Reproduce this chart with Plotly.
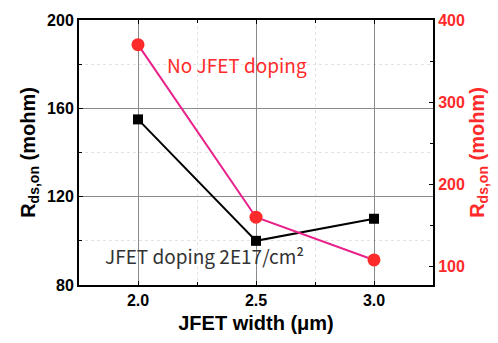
import plotly.graph_objects as go

width = [2.0, 2.5, 3.0]
rds_doped = [155, 100, 110]       # left axis (mohm)
rds_nodope = [370, 160, 108]      # right axis (mohm)

x_ticks = [2.0, 2.5, 3.0]
x_tick_text = ["2.0", "2.5", "3.0"]
left_ticks = [80, 120, 160, 200]
right_ticks = [100, 200, 300, 400]

RED = "#ff2a2a"
PINK = "#e8228a"

fig = go.Figure()
fig.add_trace(go.Scatter(
    x=width, y=rds_doped, mode="lines+markers",
    line=dict(color="black", width=2),
    marker=dict(symbol="square", size=10, color="black"),
    showlegend=False, yaxis="y"))
fig.add_trace(go.Scatter(
    x=width, y=rds_nodope, mode="lines+markers",
    line=dict(color=PINK, width=2),
    marker=dict(symbol="circle", size=13, color=RED),
    showlegend=False, yaxis="y2"))

title_font = dict(family="Liberation Sans, Arial", size=20, color="black")
tick_font_black = dict(family="Liberation Sans, Arial", size=16, color="black", weight="bold")
tick_font_red = dict(family="Liberation Sans, Arial", size=16, color=RED, weight="bold")

fig.update_layout(
    width=498, height=343,
    margin=dict(l=79, r=65, t=15, b=56),
    paper_bgcolor="white", plot_bgcolor="white",
    xaxis=dict(
        range=[1.75, 3.25], tickvals=x_ticks, ticktext=x_tick_text,
        showline=True, linecolor="black", linewidth=2, mirror="ticks",
        ticks="inside", ticklen=4, tickcolor="black",
        showgrid=True, gridcolor="#8a8a8a", gridwidth=1,
        minor=dict(dtick=0.25, tick0=1.75, ticks="inside", ticklen=3, tickcolor="black",
                   showgrid=True, gridcolor="#e2e2e2", griddash="dot"),
        tickfont=tick_font_black,
        title=dict(text="<b>JFET width (μm)</b>", font=title_font, standoff=8),
        zeroline=False,
    ),
    yaxis=dict(
        range=[80, 200], tickvals=left_ticks,
        showline=True, linecolor="black", linewidth=2, mirror=True,
        ticks="inside", ticklen=4, tickcolor="black",
        showgrid=True, gridcolor="#8a8a8a", gridwidth=1,
        minor=dict(dtick=20, tick0=80, ticks="inside", ticklen=3, tickcolor="black",
                   showgrid=True, gridcolor="#e2e2e2", griddash="dot"),
        tickfont=tick_font_black,
        title=dict(text="<b>R<sub>ds,on</sub> (mohm)</b>", font=title_font, standoff=6),
        zeroline=False,
    ),
    yaxis2=dict(
        range=[77.5, 400], tickvals=right_ticks, overlaying="y", side="right",
        showline=True, linecolor="black", linewidth=2,
        ticks="inside", ticklen=4, tickcolor="black",
        showgrid=False,
        minor=dict(dtick=50, tick0=0, ticks="inside", ticklen=3, tickcolor="black"),
        tickfont=tick_font_red,
        title=dict(text="<b>R<sub>ds,on</sub> (mohm)</b>",
                   font=dict(family="Liberation Sans, Arial", size=20, color=RED), standoff=6),
        zeroline=False,
    ),
    annotations=[
        dict(x=2.115, y=180, xref="x", yref="y", text="No JFET doping",
             showarrow=False, xanchor="left", yanchor="middle",
             font=dict(family="Noto Sans CJK KR", size=19, color=RED)),
        dict(x=1.852, y=93.5, xref="x", yref="y", text="JFET doping 2E17/cm²",
             showarrow=False, xanchor="left", yanchor="middle",
             font=dict(family="Noto Sans CJK KR", size=19, color="#333333")),
    ],
)

fig.write_html("out.html")
